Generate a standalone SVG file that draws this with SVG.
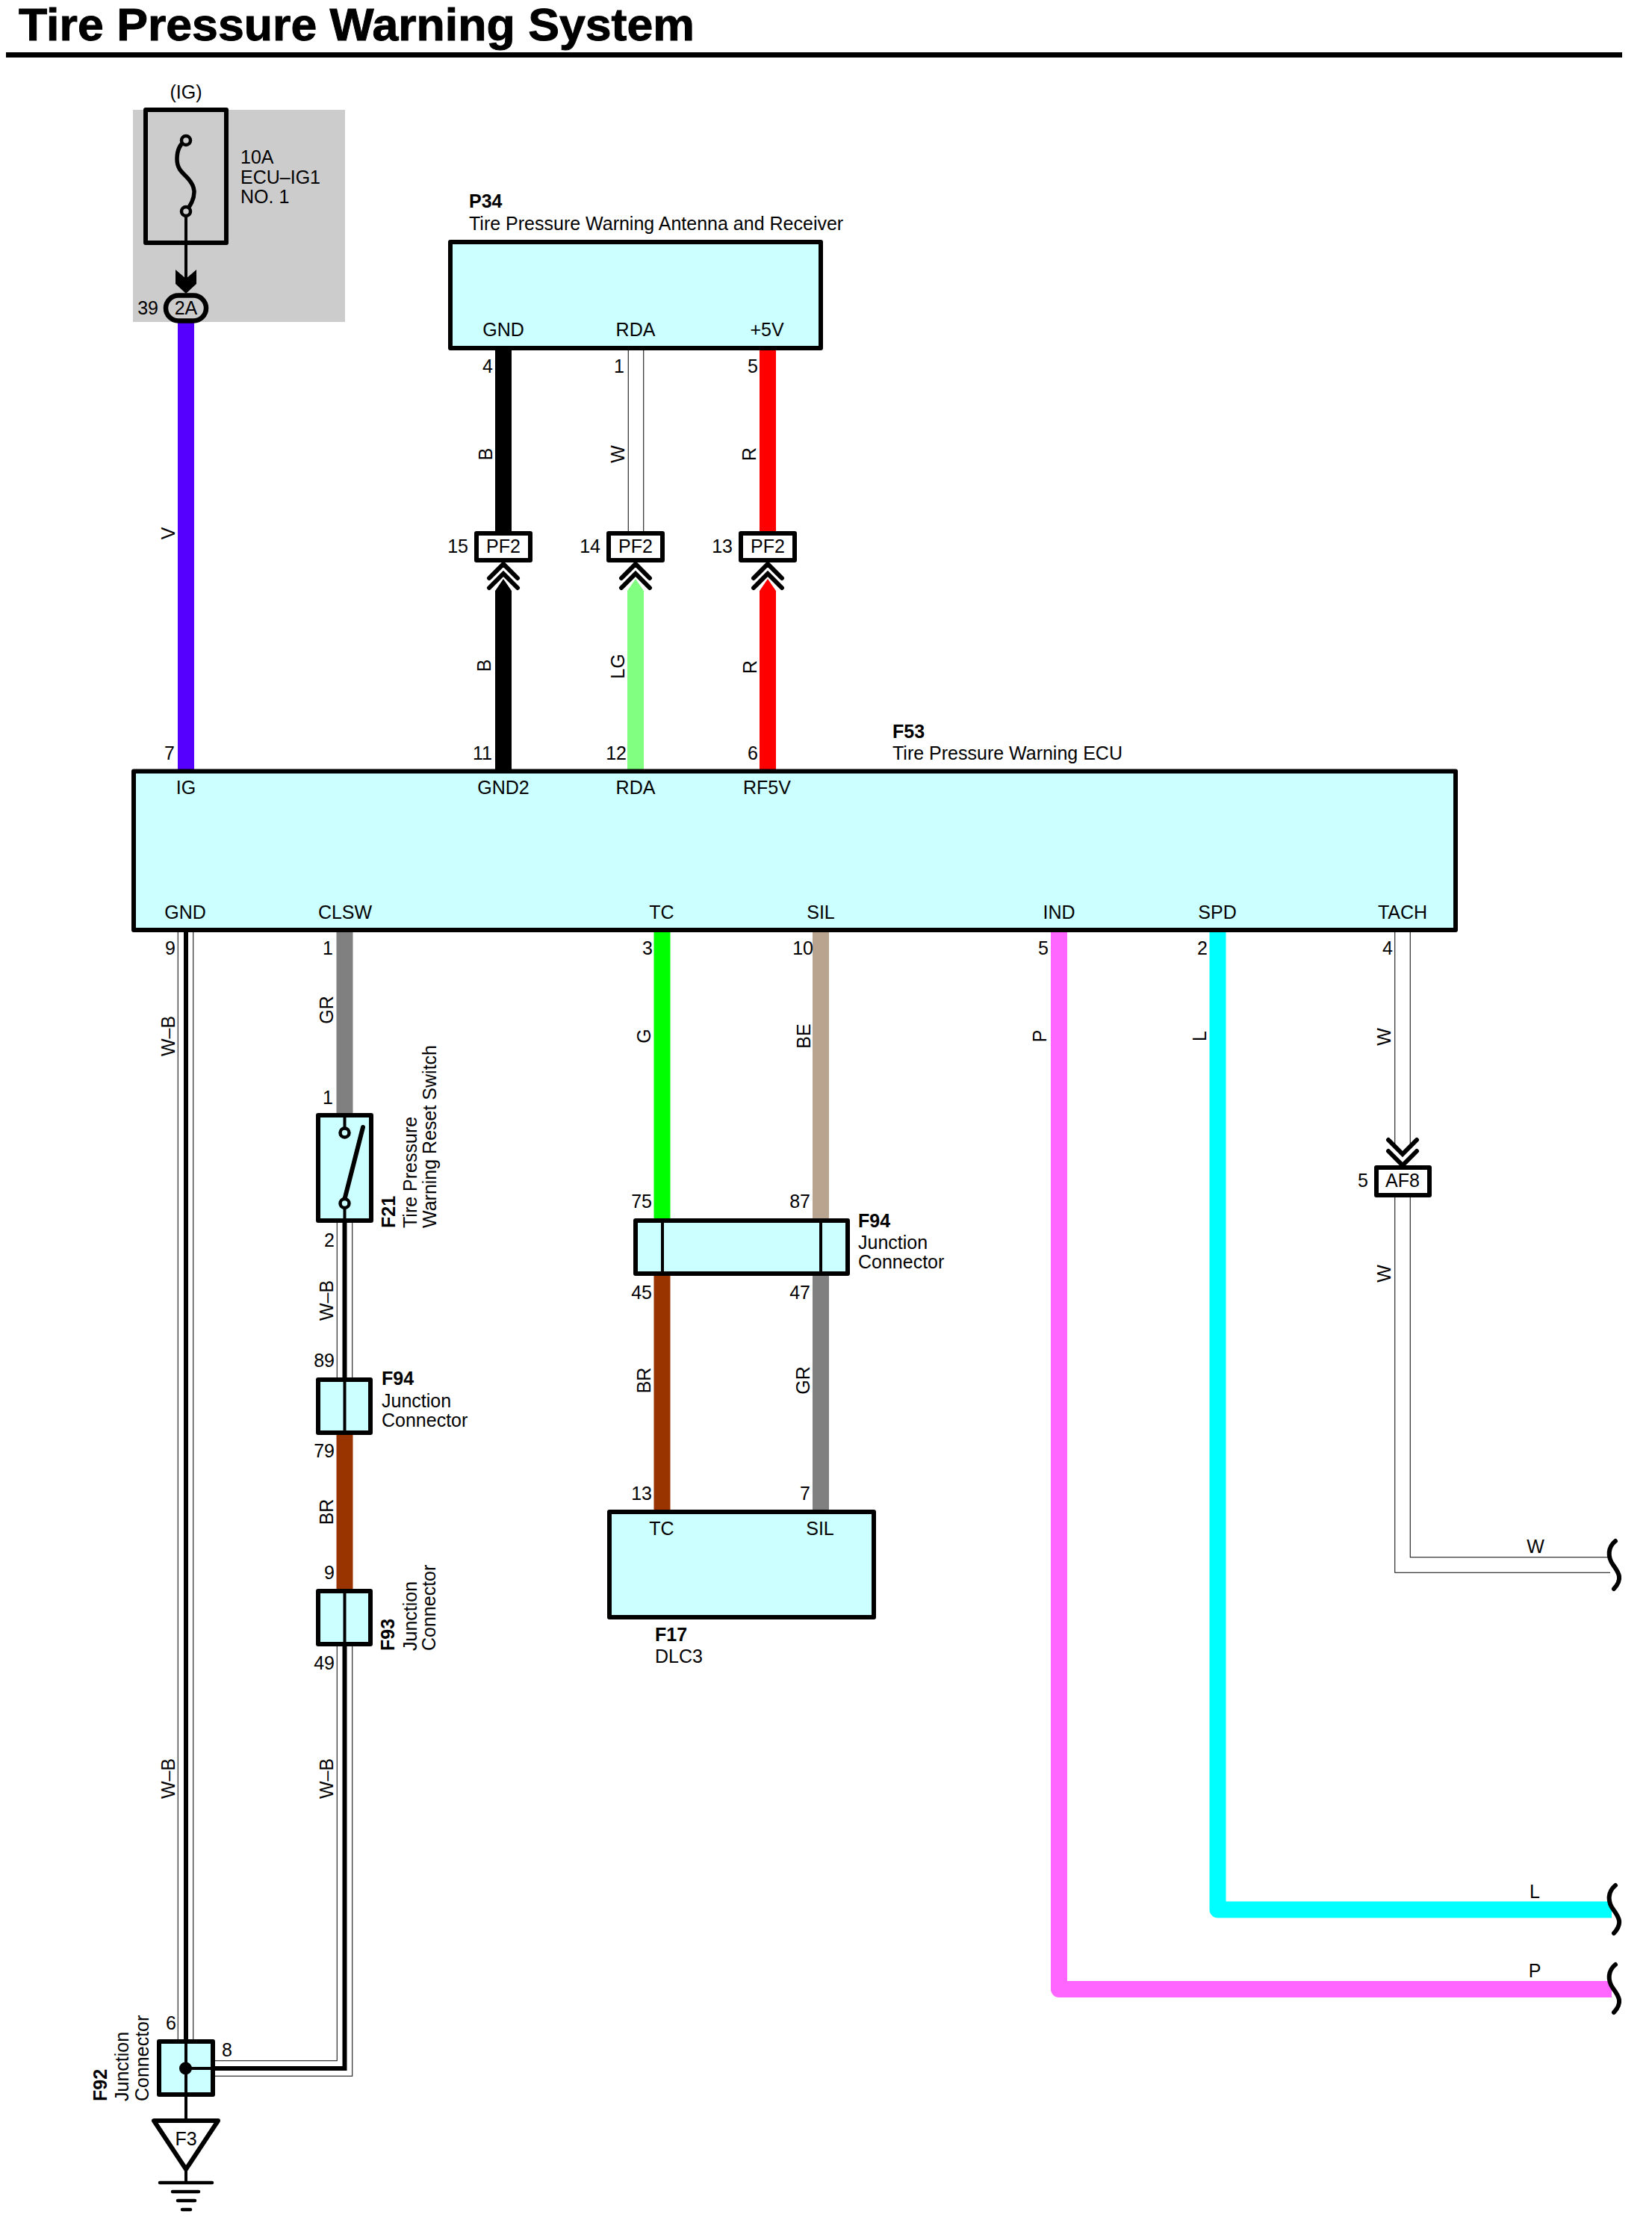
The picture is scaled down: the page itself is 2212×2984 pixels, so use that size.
<svg xmlns="http://www.w3.org/2000/svg" width="2212" height="2984" viewBox="0 0 2212 2984">
<style>
text{font-family:"Liberation Sans",Arial,sans-serif;font-size:25px;fill:#000}
.b{font-weight:bold}.m{text-anchor:middle}.e{text-anchor:end}
.box{fill:#ccffff;stroke:#000;stroke-width:6;stroke-linejoin:round}
.conn{fill:#fff;stroke:#000;stroke-width:6;stroke-linejoin:round}
.ln{fill:none;stroke:#000;stroke-width:4}
.ch{fill:none;stroke:#000;stroke-width:6;stroke-linecap:round;stroke-linejoin:miter}
.sq{fill:none;stroke:#000;stroke-width:6;stroke-linecap:round}
.w{fill:none;stroke-width:22;stroke-linejoin:round}
.hk{fill:none;stroke:#000;stroke-width:21.5;stroke-linejoin:miter}
.hw{fill:none;stroke:#fff;stroke-width:19.5;stroke-linejoin:miter}
.hb{fill:none;stroke:#000;stroke-width:6;stroke-linejoin:miter}
</style>
<rect width="2212" height="2984" fill="#fff"/>
<g id="title">
<text class="b" x="25" y="54" style="font-size:62px;stroke:#000;stroke-width:1" textLength="905" lengthAdjust="spacingAndGlyphs">Tire Pressure Warning System</text>
<rect x="8" y="70" width="2164" height="7" fill="#000"/>
</g>
<rect id="fuse-panel" x="178" y="147" width="284" height="284" fill="#ccc"/>
<g id="connectors">
<path class="w" stroke="#5500ff" d="M249 430V1030"/>
<path class="w" stroke="#000" d="M674 469V712"/>
<path class="hk" d="M851.500 469V712"/><path class="hw" d="M851.500 469V712"/>
<path class="w" stroke="#f00" d="M1028 469V712"/>
<path d="M663 791L674 775L685 791V1030H663Z" fill="#000"/>
<path d="M840 791L851 775L862 791V1030H840Z" fill="#80ff80"/>
<path d="M1017 791L1028 775L1039 791V1030H1017Z" fill="#f00"/>
<path class="hk" d="M248.500 1248V2732"/><path class="hw" d="M248.500 1248V2732"/><path class="hb" d="M249 1248V2732"/>
<path class="w" stroke="#808080" d="M461.500 1248V1490"/>
<path class="w" stroke="#0f0" d="M886.500 1248V1632"/>
<path class="w" stroke="#b8a48f" d="M1099 1248V1632"/>
<path class="w" stroke="#f6f" d="M1418 1248V2663H2158"/>
<path class="w" stroke="#0ff" d="M1630.500 1248V2556.500H2158"/>
<path class="hk" d="M1878 1248V1535"/><path class="hw" d="M1878 1248V1535"/>
<path class="hk" d="M1878 1603V2095H2156"/><path class="hw" d="M1878 1603V2095H2156"/>
<path class="hk" d="M461.500 1636V1846"/><path class="hw" d="M461.500 1636V1846"/><path class="hb" d="M461.500 1636V1846"/>
<path class="w" stroke="#930" d="M461.500 1919V2127"/>
<path class="hk" d="M461.500 2202V2769H286"/><path class="hw" d="M461.500 2202V2769H286"/><path class="hb" d="M461.500 2202V2769H286"/>
<path class="w" stroke="#993300" d="M886.500 1706V2022"/>
<path class="w" stroke="#808080" d="M1099 1706V2022"/>
<g id="wire-labels">
<text class="m" transform="translate(234,714) rotate(-90)">V</text>
<text class="m" transform="translate(659,608) rotate(-90)">B</text>
<text class="m" transform="translate(836,608) rotate(-90)">W</text>
<text class="m" transform="translate(1012,608) rotate(-90)">R</text>
<text class="m" transform="translate(657,891) rotate(-90)">B</text>
<text class="m" transform="translate(836,892) rotate(-90)">LG</text>
<text class="m" transform="translate(1013,893) rotate(-90)">R</text>
<text class="m" transform="translate(234,1387) rotate(-90)">W–B</text>
<text class="m" transform="translate(446,1352) rotate(-90)">GR</text>
<text class="m" transform="translate(871,1387) rotate(-90)">G</text>
<text class="m" transform="translate(1085,1387) rotate(-90)">BE</text>
<text class="m" transform="translate(1401,1387) rotate(-90)">P</text>
<text class="m" transform="translate(1615,1387) rotate(-90)">L</text>
<text class="m" transform="translate(1862,1388) rotate(-90)">W</text>
<text class="m" transform="translate(1862,1705) rotate(-90)">W</text>
<text class="m" transform="translate(446,1741) rotate(-90)">W–B</text>
<text class="m" transform="translate(446,2024) rotate(-90)">BR</text>
<text class="m" transform="translate(871,1848) rotate(-90)">BR</text>
<text class="m" transform="translate(1084,1848) rotate(-90)">GR</text>
<text class="m" transform="translate(446,2381) rotate(-90)">W–B</text>
<text class="m" transform="translate(234,2381) rotate(-90)">W–B</text>
<text class="m" x="2056" y="2079">W</text>
<text class="m" x="2055" y="2541">L</text>
<text class="m" x="2055" y="2647">P</text>
</g>
<g id="pin-numbers">
<text class="e" x="660" y="499">4</text><text class="e" x="836" y="499">1</text><text class="e" x="1015" y="499">5</text>
<text class="e" x="234" y="1017">7</text><text class="e" x="659" y="1017">11</text><text class="e" x="839" y="1017">12</text><text class="e" x="1015" y="1017">6</text>
<text class="e" x="235" y="1278">9</text><text class="e" x="446" y="1278">1</text><text class="e" x="874" y="1278">3</text><text class="e" x="1089" y="1278">10</text><text class="e" x="1404" y="1278">5</text><text class="e" x="1617" y="1278">2</text><text class="e" x="1865" y="1278">4</text>
<text class="e" x="446" y="1478">1</text><text class="e" x="448" y="1669">2</text>
<text class="e" x="448" y="1830">89</text><text class="e" x="448" y="1951">79</text><text class="e" x="448" y="2114">9</text><text class="e" x="448" y="2235">49</text>
<text class="e" x="873" y="1617">75</text><text class="e" x="1085" y="1617">87</text><text class="e" x="873" y="1739">45</text><text class="e" x="1085" y="1739">47</text><text class="e" x="873" y="2008">13</text><text class="e" x="1085" y="2008">7</text>
<text x="297" y="2753">8</text><text class="e" x="236" y="2717">6</text>
</g>
<g id="wire-ends">
<path class="sq" d="M2163 2063C2153 2071 2152 2084 2160 2095C2168 2106 2173 2114 2161 2127"/>
<path class="sq" d="M2163 2524C2153 2532 2152 2545 2160 2556C2168 2567 2173 2575 2161 2588"/>
<path class="sq" d="M2163 2630C2153 2638 2152 2651 2160 2662C2168 2673 2173 2681 2161 2694"/>
</g>
</g>
<g id="fuse-ecu-ig1">
<text class="m" x="249" y="132">(IG)</text>
<rect x="195" y="147" width="108" height="178" fill="none" stroke="#000" stroke-width="6" stroke-linejoin="round"/>
<path class="ln" style="stroke-width:5.500" d="M249 188C240 193 237 203 237 213C237 225 243 230 249 236C255 242 260 250 260 257C260 268 254 276 249 283"/>
<path class="ln" d="M249 283V375"/>
<circle cx="249" cy="188" r="6" fill="#ccc" stroke="#000" stroke-width="4.500"/>
<circle cx="249" cy="283" r="6" fill="#ccc" stroke="#000" stroke-width="4.500"/>
<path d="M235 361L249 373L263 361V380L249 393L235 380Z" fill="#000"/>
<text x="322" y="219">10A</text><text x="322" y="246">ECU–IG1</text><text x="322" y="272">NO. 1</text>
</g>
<g id="conn-2A">
<rect x="222" y="395.500" width="54" height="34" rx="17" fill="#ccc" stroke="#000" stroke-width="6.500"/>
<text class="m" x="249" y="421">2A</text><text class="e" x="212" y="421">39</text>
</g>
<g id="P34">
<rect class="box" x="603" y="324" width="496" height="142"/>
<text class="b" x="628" y="278">P34</text>
<text x="628" y="308">Tire Pressure Warning Antenna and Receiver</text>
<text class="m" x="674" y="450">GND</text><text class="m" x="851" y="450">RDA</text><text class="m" x="1027" y="450">+5V</text>
</g>
<g id="PF2-15">
<rect class="conn" x="638" y="714" width="72" height="36"/><text class="m" x="674" y="740">PF2</text><text class="e" x="627" y="740">15</text>
<path class="ch" d="M655 774L674 755L693 774M655 787L674 768L693 787"/>
</g>
<g id="PF2-14">
<rect class="conn" x="815" y="714" width="72" height="36"/><text class="m" x="851" y="740">PF2</text><text class="e" x="804" y="740">14</text>
<path class="ch" d="M832 774L851 755L870 774M832 787L851 768L870 787"/>
</g>
<g id="PF2-13">
<rect class="conn" x="992" y="714" width="72" height="36"/><text class="m" x="1028" y="740">PF2</text><text class="e" x="981" y="740">13</text>
<path class="ch" d="M1009 774L1028 755L1047 774M1009 787L1028 768L1047 787"/>
</g>
<g id="F53">
<rect class="box" x="179" y="1032.500" width="1770" height="212.500"/>
<text class="b" x="1195" y="988">F53</text><text x="1195" y="1017">Tire Pressure Warning ECU</text>
<text class="m" x="249" y="1063">IG</text><text class="m" x="674" y="1063">GND2</text><text class="m" x="851" y="1063">RDA</text><text class="m" x="1027" y="1063">RF5V</text>
<text class="m" x="248" y="1230">GND</text><text class="m" x="462" y="1230">CLSW</text><text class="m" x="886" y="1230">TC</text><text class="m" x="1099" y="1230">SIL</text><text class="m" x="1418" y="1230">IND</text><text class="m" x="1630" y="1230">SPD</text><text class="m" x="1878" y="1230">TACH</text>
</g>
<g id="F21">
<rect class="box" x="426" y="1493" width="71" height="141"/>
<path class="ln" d="M461.500 1493V1516M461.500 1611V1634"/>
<path class="ln" style="stroke-width:6;stroke-linecap:round" d="M486 1509L461 1607"/>
<circle cx="461.500" cy="1516.500" r="6" fill="#ccffff" stroke="#000" stroke-width="4.500"/>
<circle cx="461.500" cy="1611" r="6" fill="#ccffff" stroke="#000" stroke-width="4.500"/>
<text class="b" transform="translate(529,1644) rotate(-90)">F21</text>
<text transform="translate(558,1644) rotate(-90)">Tire Pressure</text>
<text transform="translate(584,1644) rotate(-90)">Warning Reset Switch</text>
</g>
<g id="F94-1">
<rect class="box" x="426" y="1847" width="70" height="71"/>
<path class="ln" d="M461.500 1847V1918"/>
<text class="b" x="511" y="1854">F94</text><text x="511" y="1884">Junction</text><text x="511" y="1910">Connector</text>
</g>
<g id="F93">
<rect class="box" x="426" y="2130" width="70" height="71"/>
<path class="ln" d="M461.500 2130V2201"/>
<text class="b" transform="translate(528,2210) rotate(-90)">F93</text>
<text transform="translate(558,2210) rotate(-90)">Junction</text>
<text transform="translate(583,2210) rotate(-90)">Connector</text>
</g>
<g id="F94-2">
<rect class="box" x="851" y="1634" width="284" height="71"/>
<path class="ln" d="M887 1634V1705M1099 1634V1705"/>
<text class="b" x="1149" y="1643">F94</text><text x="1149" y="1672">Junction</text><text x="1149" y="1698">Connector</text>
</g>
<g id="F17">
<rect class="box" x="816" y="2024" width="354" height="141"/>
<text class="m" x="886" y="2055">TC</text><text class="m" x="1098" y="2055">SIL</text>
<text class="b" x="877" y="2197">F17</text><text x="877" y="2226">DLC3</text>
</g>
<g id="AF8">
<path class="ch" d="M1859 1526L1878 1545L1897 1526M1859 1541L1878 1560L1897 1541"/>
<rect class="conn" x="1843" y="1563" width="71" height="37"/>
<text class="m" x="1878" y="1589">AF8</text><text class="e" x="1832" y="1589">5</text>
</g>
<g id="F92">
<rect class="box" x="213" y="2733" width="72" height="71"/>
<path class="ln" d="M249 2733V2839M249 2769H285"/>
<circle cx="248.500" cy="2769" r="8.500" fill="#000"/>
<text class="b" transform="translate(143,2813) rotate(-90)">F92</text>
<text transform="translate(172,2813) rotate(-90)">Junction</text>
<text transform="translate(199,2813) rotate(-90)">Connector</text>
</g>
<g id="F3">
<path d="M206 2839H292L249 2904Z" fill="#fff" stroke="#000" stroke-width="6" stroke-linejoin="round"/>
<text class="m" x="249" y="2872">F3</text>
<path class="ln" d="M249 2905V2922"/>
<path d="M214 2922H284M231 2934H266M238 2946H261M244 2958H255" fill="none" stroke="#000" stroke-width="4.500" stroke-linecap="round"/>
</g>
</svg>
